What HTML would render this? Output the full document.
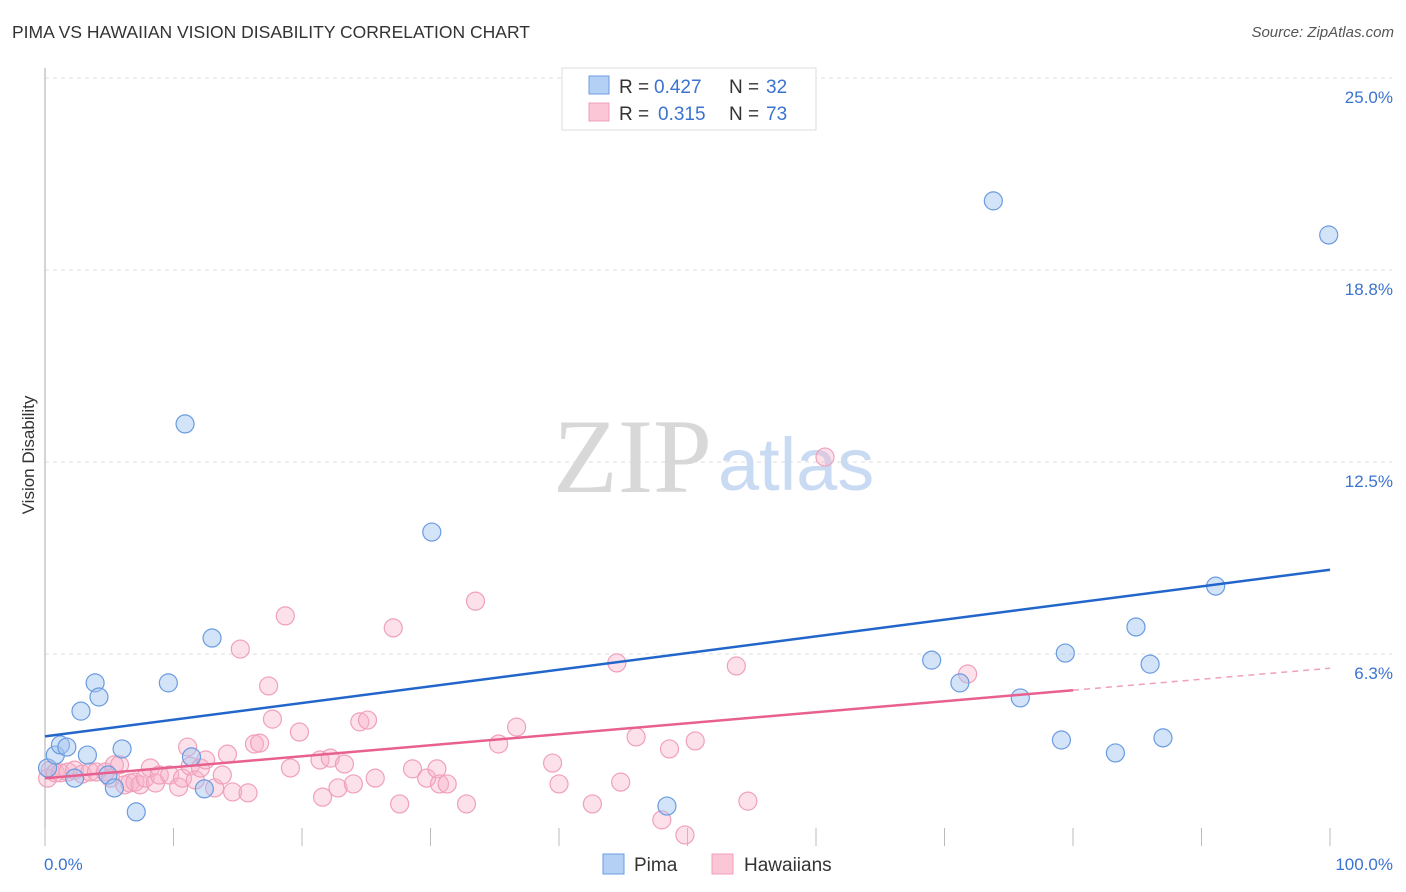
<!DOCTYPE html>
<html><head><meta charset="utf-8">
<style>
body{margin:0;background:#fff;font-family:"Liberation Sans",sans-serif;}
#wrap{position:relative;width:1406px;height:892px;overflow:hidden;}
.t{position:absolute;white-space:nowrap;}
</style></head><body>
<div id="wrap">
<div class="t" style="left:12px;top:22px;font-size:17.5px;color:#333;">PIMA VS HAWAIIAN VISION DISABILITY CORRELATION CHART</div>
<div class="t" style="right:12px;top:24px;font-size:15px;color:#555;font-style:italic;">Source: ZipAtlas.com</div>
<svg id="svg" width="1406" height="892" style="position:absolute;left:0;top:0"></svg>
</div>
<script>
const yTicks=[6.25,12.5,18.75,25];
const yTickLabels=["6.3%","12.5%","18.8%","25.0%"];
const xTickLabels=["0.0%","100.0%"];
const pimaX=[0.2,0.8,1.2,1.7,2.3,2.8,3.3,3.9,4.2,4.9,5.4,6.0,7.1,9.6,10.9,11.4,12.4,13.0,30.1,48.4,69.0,71.2,73.8,75.9,79.1,79.4,83.3,84.9,86.0,87.0,91.1,99.9];
const pimaY=[2.54,2.96,3.29,3.22,2.21,4.39,2.96,5.31,4.85,2.31,1.89,3.16,1.11,5.31,13.74,2.90,1.86,6.77,10.22,1.30,6.05,5.31,21.0,4.82,3.45,6.28,3.03,7.13,5.92,3.52,8.46,19.89];
const hawX=[0.2,0.4,0.8,1.2,1.8,2.3,2.9,3.5,4.0,4.7,5.1,5.4,5.8,6.2,6.6,7.0,7.4,7.8,8.2,8.6,8.9,9.7,10.4,10.7,11.1,11.3,11.7,12.1,12.5,13.2,13.8,14.2,14.6,15.2,15.8,16.3,16.7,17.4,17.7,18.7,19.1,19.8,21.4,21.6,22.2,22.8,23.3,24.0,24.5,25.1,25.7,27.1,27.6,28.6,29.7,30.5,30.7,31.3,32.8,33.5,35.3,36.7,39.5,40.0,42.6,44.5,44.8,46.0,48.0,48.6,49.8,50.6,53.8,54.7,60.7,71.8];
const hawY=[2.21,2.47,2.38,2.38,2.41,2.47,2.34,2.41,2.41,2.41,2.21,2.64,2.64,1.99,2.05,2.08,1.99,2.21,2.54,2.05,2.31,2.31,1.92,2.21,3.22,2.60,2.15,2.54,2.80,1.89,2.31,2.99,1.76,6.41,1.73,3.32,3.35,5.21,4.13,7.49,2.54,3.71,2.80,1.59,2.86,1.89,2.67,2.02,4.04,4.10,2.21,7.10,1.37,2.51,2.21,2.51,2.02,2.02,1.37,7.97,3.32,3.87,2.70,2.02,1.37,5.96,2.08,3.55,0.85,3.16,0.36,3.42,5.86,1.46,12.66,5.60];
const NS='http://www.w3.org/2000/svg';
const svg=document.getElementById('svg');
const L=45,R=1330,T=78,B=846;
const xs=v=>L+v/100*(R-L);
const ys=v=>B-v/25*(B-T);
function mk(tag,attrs,parent){const e=document.createElementNS(NS,tag);for(const k in attrs)e.setAttribute(k,attrs[k]);(parent||svg).appendChild(e);return e;}
yTicks.forEach((v,i)=>{
 const g=mk('line',{x1:L,x2:1392,y1:ys(v),y2:ys(v),stroke:'#ddd','stroke-dasharray':'4,4'});
 
 
 const t=mk('text',{x:1393,y:ys(v)+25,'text-anchor':'end','font-size':17,fill:'#3b73d0','font-family':'Liberation Sans'});
 t.textContent=yTickLabels[i];
 
 
});
const ax=mk('line',{x1:L,x2:L,y1:68,y2:B,stroke:'#aaa'});


for(let i=0;i<=10;i++){
 const tk=mk('line',{x1:xs(i*10),x2:xs(i*10),y1:828,y2:B,stroke:'#bbb'});
 
 
}
[[0,'start',44],[100,'end',1393]].forEach((d,i)=>{
 const t=mk('text',{x:d[2],y:870,'text-anchor':d[1],'font-size':17,fill:'#3b73d0','font-family':'Liberation Sans'});
 t.textContent=xTickLabels[i];
 
 
});
const yt=mk('text',{x:34,y:455,'text-anchor':'middle','font-size':17,fill:'#333',transform:'rotate(-90 34 455)','font-family':'Liberation Sans'});
yt.textContent='Vision Disability';


const w1=mk('text',{x:553,y:492,'font-size':106,fill:'#d8d8d8','font-family':'Liberation Serif'});
w1.textContent='ZIP';


const w2=mk('text',{x:718,y:490,'font-size':74,fill:'#c9daf3','font-family':'Liberation Sans'});
w2.textContent='atlas';


function reg(X,Y){const n=X.length;let mx=0,my=0;for(let i=0;i<n;i++){mx+=X[i];my+=Y[i];}mx/=n;my/=n;let sxy=0,sxx=0;for(let i=0;i<n;i++){sxy+=(X[i]-mx)*(Y[i]-my);sxx+=(X[i]-mx)**2;}const b=sxy/sxx;return x=>my+b*(x-mx);}
function pts(X,Y,fill,stroke,name){X.forEach((x,i)=>{const c=mk('circle',{cx:xs(x),cy:ys(Y[i]),r:9,fill:fill,stroke:stroke,'stroke-width':1.2});
 
 });}
pts(hawX,hawY,'rgba(248,176,200,0.38)','#f0a0ba','hawaiians-point');
pts(pimaX,pimaY,'rgba(160,196,240,0.45)','#6a9be0','pima-point');
const fp=reg(pimaX,pimaY),fh=reg(hawX,hawY);
const pl=mk('line',{x1:xs(0),y1:ys(fp(0)),x2:xs(100),y2:ys(fp(100)),stroke:'#2266cc','stroke-width':2.5});


const hl=mk('line',{x1:xs(0),y1:ys(fh(0)),x2:xs(80),y2:ys(fh(80)),stroke:'#e8608f','stroke-width':2.5});


const hd=mk('line',{x1:xs(80),y1:ys(fh(80)),x2:xs(100),y2:ys(fh(100)),stroke:'#f0a0ba','stroke-width':1.5,'stroke-dasharray':'6,5'});


const lg=mk('g',{});


mk('rect',{x:562,y:68,width:254,height:62,fill:'#fff',stroke:'#ddd'},lg);
mk('rect',{x:589,y:76,width:20,height:18,fill:'#b5d0f5',stroke:'#6a9be0'},lg);
mk('rect',{x:589,y:103,width:20,height:18,fill:'#fbc6d6',stroke:'#f0a0ba'},lg);
function lt(x,y,s,c,name){const t=mk('text',{x:x,y:y,'font-size':19,fill:c,'font-family':'Liberation Sans'},lg);t.textContent=s;
 
 }
lt(619,93,'R =','#333','legend-r-label');lt(654,93,'0.427','#3b73d0','legend-pima-r');lt(729,93,'N =','#333','legend-n-label');lt(766,93,'32','#3b73d0','legend-pima-n');
lt(619,120,'R =','#333','legend-r-label');lt(658,120,'0.315','#3b73d0','legend-haw-r');lt(729,120,'N =','#333','legend-n-label');lt(766,120,'73','#3b73d0','legend-haw-n');
const b1=mk('rect',{x:603,y:854,width:21,height:20,fill:'#b5d0f5',stroke:'#6a9be0'});


const b2=mk('rect',{x:712,y:854,width:21,height:20,fill:'#fbc6d6',stroke:'#f0a0ba'});


const t1=mk('text',{x:634,y:871,'font-size':19,fill:'#333','font-family':'Liberation Sans'});t1.textContent='Pima';


const t2=mk('text',{x:744,y:871,'font-size':19,fill:'#333','font-family':'Liberation Sans'});t2.textContent='Hawaiians';


</script>
</body></html>
